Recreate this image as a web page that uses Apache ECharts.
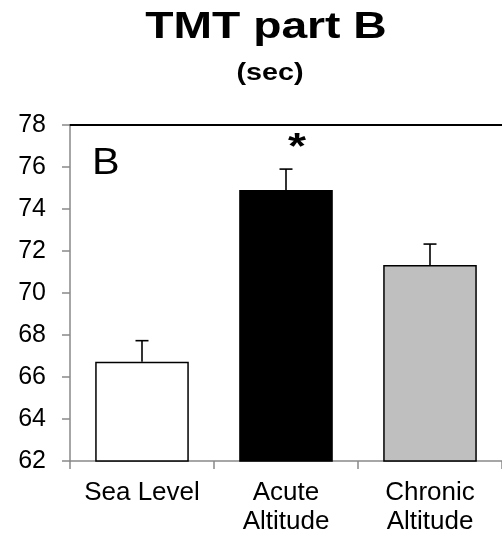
<!DOCTYPE html>
<html>
<head>
<meta charset="utf-8">
<script src="https://cdn.jsdelivr.net/npm/echarts@6/dist/echarts.min.js"></script>
<style>
html,body{margin:0;padding:0;background:#fff;}
#chart{width:502px;height:539px;}
</style>
</head>
<body>
<div id="chart"></div>
<script>
// ---- data ----
const titleText = 'TMT part B';
const subtitleText = '(sec)';
const panelLetter = 'B';
const categories = ['Sea Level', 'Acute\nAltitude', 'Chronic\nAltitude'];
const means = [66.73, 74.9, 71.33];
const errors = [1.0, 1.0, 1.0];
const barColors = ['#FFFFFF', '#000000', '#BFBFBF'];
const significance = ['', '*', ''];
const yMin = 62, yMax = 78, yInterval = 2;

const FONT = "'Liberation Sans', Arial, sans-serif";

const chart = echarts.init(document.getElementById('chart'), null, {renderer: 'canvas'});

const barData = means.map((v, i) => ({
  value: v,
  itemStyle: {color: barColors[i], borderColor: '#000', borderWidth: 1.5}
}));
const errData = means.map((v, i) => [i, v, errors[i]]);

const option = {
  backgroundColor: '#fff',
  animation: false,
  grid: {left: 70, top: 125, width: 444, height: 336, containLabel: false},
  xAxis: [{
    type: 'category',
    data: categories,
    position: 'bottom',
    axisLine: {lineStyle: {color: '#898989', width: 1.5}},
    axisTick: {show: true, length: 8, alignWithLabel: false, lineStyle: {color: '#898989', width: 1.5}},
    axisLabel: {interval: 0, hideOverlap: false, color: '#000', fontFamily: FONT, fontSize: 26, lineHeight: 29, margin: 17},
    splitLine: {show: false}
  }, {
    type: 'category',
    data: categories,
    position: 'top',
    axisLine: {lineStyle: {color: '#000', width: 2}},
    axisTick: {show: false},
    axisLabel: {show: false}
  }],
  yAxis: {
    type: 'value',
    min: yMin, max: yMax, interval: yInterval,
    axisLine: {show: true, lineStyle: {color: '#898989', width: 1.5}},
    axisTick: {show: true, length: 8, lineStyle: {color: '#898989', width: 1.5}},
    axisLabel: {color: '#000', fontFamily: FONT, fontSize: 25, margin: 24},
    splitLine: {show: false}
  },
  graphic: [
    {type: 'text', x: 266, y: 9, scaleX: 1.25,
     style: {text: titleText, font: "bold 37px " + FONT, fill: '#000', textAlign: 'center', textVerticalAlign: 'top'}},
    {type: 'text', x: 270, y: 62, scaleX: 1.25,
     style: {text: subtitleText, font: "bold 23px " + FONT, fill: '#000', textAlign: 'center', textVerticalAlign: 'top'}},
    {type: 'text', x: 92, y: 145, scaleX: 1.12,
     style: {text: panelLetter, font: "37px " + FONT, fill: '#000', textAlign: 'left', textVerticalAlign: 'top'}}
  ],
  series: [{
    type: 'bar',
    data: barData,
    barWidth: '65%',
    z: 2
  }, {
    type: 'custom',
    data: errData,
    z: 3,
    renderItem: function (params, api) {
      const i = api.value(0);
      const v = api.value(1);
      const e = api.value(2);
      const top = api.coord([i, v]);
      const cap = api.coord([i, v + e]);
      const hw = 6.5;
      const style = {stroke: '#000', lineWidth: 1.6};
      const children = [
        {type: 'line', shape: {x1: top[0], y1: top[1], x2: cap[0], y2: cap[1]}, style: style},
        {type: 'line', shape: {x1: cap[0] - hw, y1: cap[1], x2: cap[0] + hw, y2: cap[1]}, style: style}
      ];
      const mark = significance[params.dataIndex];
      if (mark) {
        children.push({type: 'text', x: cap[0] + 11, y: cap[1] - 20, scaleX: 1.25,
          style: {text: mark, font: "bold 37px " + FONT, fill: '#000', textAlign: 'center', textVerticalAlign: 'middle'}});
      }
      return {type: 'group', children: children};
    }
  }]
};
chart.setOption(option);
</script>
</body>
</html>
